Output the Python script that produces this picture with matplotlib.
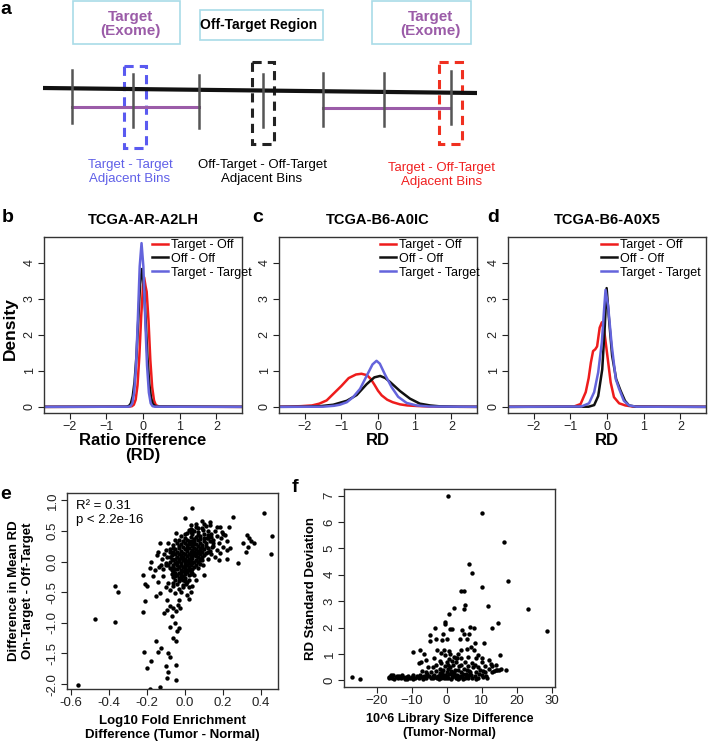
import matplotlib
matplotlib.use('Agg')
import matplotlib.pyplot as plt
from matplotlib.patches import Rectangle

plt.rcParams['font.family'] = ['Liberation Sans', 'DejaVu Sans']

W, H = 708, 741

RED = '#ee1c1c'
BLACK = '#111111'
BLUE = '#6464dc'
PURPLE = '#9b5ca8'

# ---- density curves ----
b_red_x = [-3, -0.4, -0.3, -0.25, -0.2, -0.15, -0.1, -0.05, 0.0, 0.03, 0.07, 0.1, 0.15, 0.2, 0.25, 0.3, 0.35, 0.45, 3]
b_red_y = [0, 0.005, 0.02, 0.06, 0.2, 0.6, 1.4, 2.5, 3.35, 3.6, 3.35, 3.2, 2.4, 1.3, 0.55, 0.18, 0.05, 0.005, 0]
b_black_x = [-3, -0.45, -0.38, -0.33, -0.28, -0.23, -0.18, -0.13, -0.08, -0.03, 0.02, 0.07, 0.12, 0.17, 0.22, 0.27, 0.35, 3]
b_black_y = [0, 0.005, 0.03, 0.1, 0.3, 0.7, 1.4, 2.4, 3.4, 3.83, 3.45, 2.45, 1.4, 0.65, 0.25, 0.08, 0.01, 0]
b_blue_x = [-3, -0.4, -0.34, -0.29, -0.24, -0.19, -0.14, -0.09, -0.04, 0.01, 0.06, 0.11, 0.16, 0.21, 0.26, 0.32, 3]
b_blue_y = [0, 0.005, 0.02, 0.1, 0.4, 1.15, 2.45, 3.9, 4.55, 3.9, 2.45, 1.15, 0.4, 0.1, 0.02, 0.005, 0]

c_red_x = [-3, -2.4, -2.1, -1.8, -1.6, -1.4, -1.2, -1.0, -0.8, -0.6, -0.45, -0.3, -0.2, -0.1, 0.0, 0.1, 0.25, 0.4, 0.6, 0.8, 1.05, 1.4, 2.0, 3]
c_red_y = [0, 0.01, 0.02, 0.04, 0.09, 0.18, 0.38, 0.58, 0.8, 0.9, 0.92, 0.88, 0.78, 0.62, 0.45, 0.32, 0.2, 0.13, 0.07, 0.04, 0.025, 0.01, 0.003, 0]
c_black_x = [-3, -2.0, -1.58, -1.22, -0.85, -0.58, -0.31, -0.1, 0.06, 0.2, 0.33, 0.6, 0.87, 1.14, 1.42, 1.69, 2.2, 3]
c_black_y = [0, 0.005, 0.02, 0.06, 0.17, 0.33, 0.63, 0.82, 0.86, 0.8, 0.69, 0.44, 0.23, 0.09, 0.04, 0.015, 0.003, 0]
c_blue_x = [-3, -1.5, -1.2, -1.04, -0.85, -0.68, -0.49, -0.31, -0.15, -0.04, 0.05, 0.19, 0.37, 0.55, 0.78, 1.05, 1.4, 3]
c_blue_y = [0, 0.005, 0.03, 0.06, 0.13, 0.27, 0.5, 0.86, 1.18, 1.28, 1.2, 0.9, 0.55, 0.28, 0.11, 0.04, 0.01, 0]

d_red_x = [-3, -0.9, -0.72, -0.58, -0.5, -0.44, -0.38, -0.32, -0.27, -0.2, -0.14, -0.08, 0.01, 0.1, 0.19, 0.33, 0.5, 0.7, 3]
d_red_y = [0, 0.01, 0.08, 0.41, 0.8, 1.23, 1.55, 1.6, 1.68, 2.2, 2.35, 2.15, 1.42, 0.68, 0.27, 0.1, 0.04, 0.01, 0]
d_black_x = [-3, -0.5, -0.35, -0.24, -0.13, -0.06, -0.01, 0.05, 0.14, 0.25, 0.37, 0.49, 0.6, 0.8, 3]
d_black_y = [0, 0.005, 0.05, 0.3, 1.04, 2.25, 3.3, 2.5, 1.42, 0.77, 0.45, 0.17, 0.04, 0.005, 0]
d_blue_x = [-3, -0.7, -0.49, -0.35, -0.24, -0.14, -0.08, -0.04, 0.03, 0.13, 0.24, 0.33, 0.46, 0.6, 0.8, 3]
d_blue_y = [0, 0.01, 0.1, 0.41, 0.96, 1.8, 2.7, 3.25, 2.8, 1.7, 0.77, 0.5, 0.17, 0.04, 0.005, 0]

legend_labels = ['Target - Off', 'Off - Off', 'Target - Target']

# ---- panel e scatter: (log10 fold enrichment diff, diff in mean RD) ----
e_points = [
    (-0.56, -2.01), (-0.475, -0.93), (-0.37, -0.98), (-0.37, -0.40), (-0.35, -0.49),
    (-0.22, -0.22), (-0.21, -0.36), (-0.2, -0.40), (-0.22, -0.83), (-0.21, -0.65),
    (-0.215, -1.48), (-0.2, -1.74), (-0.176, -1.63), (-0.185, -2.08), (-0.153, -1.30),
    (-0.14, -1.47), (-0.123, -1.41), (-0.132, -2.05), (-0.1, -1.71), (-0.088, -1.81),
    (-0.093, -1.90), (-0.047, -1.93), (-0.044, -1.68), (-0.088, -1.49), (-0.08, -1.55),
    (-0.07, -0.88), (-0.08, -1.06), (-0.053, -1.0), (-0.06, -1.25), (-0.047, -1.30),
    (-0.04, -1.14), (-0.03, -1.09), (-0.11, -0.84), (-0.093, -0.79), (-0.08, -0.72),
    (-0.06, -0.76), (-0.035, -0.71), (-0.023, -0.76), (-0.044, -0.81), (-0.03, -0.62),
    (-0.093, -0.62), (-0.132, -0.52), (-0.15, -0.56), (-0.1, -0.42), (-0.08, -0.46),
    (-0.053, -0.52), (-0.018, -0.49), (0.009, -0.54), (0.023, -0.61), (0.032, -0.50),
    (-0.009, -0.41), (0.005, -0.36), (0.035, -0.40), (-0.06, -0.35), (-0.088, -0.35),
    (-0.14, -0.33), (-0.114, -0.24), (-0.167, -0.24), (-0.185, -0.11), (-0.176, 0.0),
    (-0.14, 0.16), (-0.132, 0.30), (-0.146, 0.11), (-0.158, -0.14), (-0.136, -0.08),
    (-0.123, -0.05), (-0.114, -0.12), (-0.1, -0.03), (-0.093, 0.08), (-0.1, 0.19),
    (-0.08, 0.16), (-0.053, 0.35), (-0.047, 0.46), (-0.06, 0.27), (0.0, 0.71),
    (0.04, 0.87), (0.03, 0.54), (0.07, 0.43), (0.097, 0.52), (0.132, 0.65),
    (0.167, 0.57), (0.185, 0.57), (0.193, 0.49), (0.21, 0.43), (0.23, 0.57),
    (0.255, 0.73), (0.22, 0.33), (0.2, 0.24), (0.22, 0.19), (0.24, 0.22),
    (0.167, 0.19), (0.185, 0.14), (0.18, 0.03), (0.158, 0.08), (0.141, 0.24),
    (0.123, 0.15), (0.15, 0.35), (0.114, 0.38), (0.22, 0.05), (0.278, -0.02),
    (0.304, 0.31), (0.325, 0.43), (0.34, 0.38), (0.35, 0.33), (0.364, 0.30),
    (0.334, 0.24), (0.322, 0.16), (0.417, 0.79), (0.457, 0.41), (0.452, 0.12),
    (0.1, -0.22), (0.079, 0.03), (0.097, -0.05),
    (0.02, 0.52), (0.05, 0.5), (0.07, 0.48), (0.09, 0.55), (0.04, 0.45),
    (0.11, 0.58), (0.13, 0.6), (0.12, 0.5), (0.01, 0.47), (0.06, 0.56),
    (-0.02, 0.42), (0.0, 0.38), (0.03, 0.4), (0.05, 0.37), (0.08, 0.42),
    (0.1, 0.39), (0.12, 0.44), (0.07, 0.35), (-0.01, 0.33), (0.02, 0.34),
    (0.14, 0.45), (0.16, 0.5), (-0.04, 0.3), (-0.02, 0.28), (0.0, 0.31),
    (0.01, 0.27), (0.03, 0.3), (0.04, 0.26), (0.06, 0.29), (0.08, 0.31),
    (0.09, 0.27), (0.11, 0.3), (0.05, 0.33), (-0.03, 0.25), (0.13, 0.33),
    (-0.05, 0.2), (-0.03, 0.22), (-0.02, 0.18), (0.0, 0.21), (0.01, 0.17),
    (0.02, 0.23), (0.04, 0.19), (0.05, 0.22), (0.07, 0.18), (0.08, 0.23),
    (0.1, 0.2), (-0.06, 0.16), (0.03, 0.15), (0.06, 0.14), (0.09, 0.16),
    (0.12, 0.22), (-0.07, 0.1), (-0.05, 0.12), (-0.04, 0.08), (-0.02, 0.11),
    (-0.01, 0.07), (0.0, 0.13), (0.01, 0.09), (0.03, 0.11), (0.04, 0.06),
    (0.05, 0.1), (0.07, 0.08), (0.08, 0.12), (0.1, 0.1), (-0.03, 0.05),
    (0.02, 0.04), (0.06, 0.03), (-0.08, 0.0), (-0.06, 0.02), (-0.05, -0.02),
    (-0.03, 0.01), (-0.02, -0.03), (-0.01, 0.02), (0.0, -0.01), (0.01, 0.01),
    (0.02, -0.02), (0.03, 0.02), (0.04, -0.03), (0.05, 0.0), (0.07, -0.01),
    (0.09, 0.02), (-0.04, -0.05), (0.0, -0.06), (-0.08, -0.1), (-0.06, -0.08),
    (-0.05, -0.12), (-0.03, -0.09), (-0.02, -0.13), (-0.01, -0.08), (0.0, -0.11),
    (0.01, -0.14), (0.02, -0.09), (0.04, -0.12), (0.05, -0.08), (0.07, -0.1),
    (-0.07, -0.14), (0.03, -0.16), (-0.07, -0.2), (-0.05, -0.18), (-0.04, -0.22),
    (-0.02, -0.19), (-0.01, -0.23), (0.0, -0.2), (0.01, -0.17), (0.02, -0.22),
    (0.04, -0.19), (-0.06, -0.25), (-0.03, -0.26), (0.0, -0.27), (-0.05, -0.3),
    (-0.03, -0.32), (-0.02, -0.29), (0.0, -0.31), (0.01, -0.34), (-0.04, -0.36),
    (0.02, -0.3), (-0.01, -0.38), (-0.12, 0.05), (-0.1, -0.05), (-0.11, 0.12),
    (0.12, 0.05), (0.14, 0.12), (0.15, 0.25), (0.18, 0.3), (0.17, 0.42),
    (0.2, 0.45), (0.19, 0.38), (-0.09, 0.3), (-0.08, 0.2), (0.0, 0.45),
    (0.06, 0.62), (0.1, 0.62), (0.09, 0.67), (0.03, 0.6), (-0.06, -0.4),
    (-0.03, -0.45), (0.02, -0.42), (0.06, -0.3), (0.05, -0.22),
    (-0.05, 0.05), (-0.04, 0.15), (-0.03, 0.12), (-0.01, 0.14), (0.01, 0.22),
    (0.02, 0.12), (0.03, 0.07), (0.04, 0.14), (0.06, 0.09), (0.06, 0.2),
    (0.07, 0.26), (0.08, 0.05), (0.09, 0.08), (0.02, 0.28), (0.04, 0.34),
    (0.06, 0.4), (0.08, 0.37), (0.1, 0.45), (0.03, 0.48), (-0.01, 0.24),
    (-0.02, 0.06), (-0.04, 0.0), (-0.06, -0.05), (-0.02, -0.06), (0.01, -0.05),
    (0.03, -0.06), (0.02, 0.0), (0.0, 0.04), (-0.01, -0.15), (-0.03, -0.18),
    (0.0, -0.16), (0.02, -0.13), (-0.04, -0.12), (-0.06, -0.15), (0.03, -0.2),
    (-0.02, -0.24), (-0.05, -0.24), (-0.01, -0.3), (0.05, 0.16), (0.07, 0.14),
    (0.09, 0.22), (0.11, 0.25), (0.1, 0.33), (0.12, 0.38), (0.14, 0.4),
    (0.01, 0.36), (-0.03, 0.35), (0.05, 0.28), (0.08, 0.18), (-0.07, 0.05),
    (-0.08, 0.08), (-0.06, 0.22), (-0.09, -0.05), (0.06, -0.05), (0.08, -0.04),
    (0.11, 0.14), (0.13, 0.18), (0.15, 0.3), (0.04, 0.52), (0.07, 0.55),
]

# ---- panel f scatter: (library size diff, RD standard deviation) ----
f_points = [
    (0.48, 6.97), (10.2, 6.34), (16.4, 5.26), (6.4, 4.41), (7.3, 4.08),
    (17.5, 3.78), (10.0, 3.55), (4.2, 3.40), (5.0, 3.40), (2.1, 2.76),
    (5.4, 2.85), (5.0, 2.69), (11.8, 2.83), (23.3, 2.69), (0.67, 2.51),
    (28.6, 1.88), (14.7, 2.18), (13.0, 2.0), (-0.57, 2.22), (-0.3, 2.13),
    (1.1, 1.96), (1.6, 1.93), (-0.95, 1.77), (-3.4, 2.0), (-4.6, 1.71),
    (-4.8, 1.50), (-2.9, 1.55), (-1.2, 1.52), (0.19, 1.58), (4.5, 1.90),
    (5.0, 1.77), (6.4, 1.77), (6.7, 2.03), (7.8, 2.0), (3.8, 1.58),
    (5.9, 1.55), (8.0, 1.42), (10.7, 1.42), (6.9, 1.27), (-9.5, 1.08),
    (-7.6, 1.17), (-6.5, 1.01), (-7.4, 0.70), (-6.0, 0.76), (-5.3, 0.51),
    (-3.6, 0.86), (-2.7, 1.14), (-1.5, 1.04), (-0.76, 1.14), (0.67, 1.12),
    (1.1, 0.99), (2.6, 0.86), (3.2, 1.01), (4.2, 1.14), (5.9, 1.20),
    (7.8, 1.17), (9.0, 0.95), (10.2, 0.86), (12.1, 0.79), (12.6, 0.63),
    (15.2, 0.95), (14.5, 0.41), (13.5, 0.35), (-27.1, 0.13), (-24.8, 0.05),
    (-7.9, 0.66), (-16.5, 0.08), (-16.0, 0.15), (-15.5, 0.1), (-15.2, 0.2),
    (-15.0, 0.05), (-14.5, 0.12), (-14.0, 0.08), (-13.5, 0.18), (-13.0, 0.1),
    (-12.5, 0.14), (-12.0, 0.07), (-11.5, 0.12), (-11.0, 0.18), (-10.5, 0.09),
    (-10.0, 0.14), (-9.5, 0.2), (-9.0, 0.1), (-8.5, 0.16), (-8.0, 0.08),
    (-7.5, 0.22), (-7.0, 0.13), (-6.5, 0.18), (-6.0, 0.1), (-5.5, 0.25),
    (-5.0, 0.15), (-4.5, 0.3), (-4.0, 0.1), (-3.5, 0.22), (-3.0, 0.35),
    (-2.5, 0.15), (-2.0, 0.28), (-1.5, 0.1), (-1.0, 0.4), (-0.5, 0.2),
    (0.0, 0.3), (0.5, 0.1), (1.0, 0.5), (1.5, 0.25), (2.0, 0.15),
    (2.5, 0.4), (3.0, 0.2), (3.5, 0.55), (4.0, 0.3), (4.5, 0.12),
    (5.0, 0.45), (5.5, 0.25), (6.0, 0.1), (6.5, 0.35), (7.0, 0.2),
    (7.5, 0.5), (8.0, 0.15), (8.5, 0.3), (9.0, 0.1), (9.5, 0.4),
    (10.0, 0.2), (10.5, 0.12), (11.0, 0.3), (11.5, 0.08), (12.0, 0.45),
    (13.0, 0.3), (14.0, 0.38), (15.0, 0.4), (16.9, 0.38), (-4.0, 0.5),
    (-3.0, 0.6), (-2.0, 0.45), (-1.5, 0.65), (-1.0, 0.2), (-0.5, 0.55),
    (0.0, 0.7), (0.3, 0.45), (0.8, 0.8), (1.2, 0.35), (1.8, 0.6),
    (2.2, 0.3), (2.8, 0.7), (3.2, 0.4), (3.8, 0.15), (4.2, 0.6),
    (4.8, 0.25), (5.2, 0.7), (5.8, 0.4), (6.2, 0.55), (6.8, 0.3),
    (7.2, 0.65), (-2.8, 0.1), (-1.8, 0.2), (-0.8, 0.08), (0.2, 0.15),
    (1.4, 0.05), (2.6, 0.1), (3.6, 0.08), (4.6, 0.05), (5.6, 0.12),
    (-6.0, 0.3), (-7.0, 0.35), (8.0, 0.6), (9.0, 0.5), (10.0, 0.7),
    (11.0, 0.55), (13.0, 0.55), (14.0, 0.6), (15.5, 0.45),
    (-4.5, 0.08), (-3.8, 0.18), (-3.2, 0.12), (-2.2, 0.05), (-1.2, 0.3),
    (-0.2, 0.08), (0.7, 0.25), (1.7, 0.12), (2.3, 0.22), (3.3, 0.05),
    (4.3, 0.18), (5.3, 0.08), (6.3, 0.22), (7.3, 0.1), (8.3, 0.05),
    (9.3, 0.25), (10.3, 0.35), (11.3, 0.18), (-8.2, 0.12), (-9.7, 0.05),
    (-11.2, 0.05), (-12.8, 0.2), (-14.2, 0.15), (-15.8, 0.22), (-16.3, 0.12),
    (-6.8, 0.05), (-5.8, 0.18), (0.5, 0.6), (2.0, 0.9), (3.0, 0.85),
    (-2.0, 0.75), (1.5, 0.75), (4.0, 0.85), (8.5, 0.85), (-0.3, 0.95),
    (6.0, 0.9),
]


def fig_box(l, t, r, b):
    return [l / W, 1 - b / H, (r - l) / W, (b - t) / H]


def style_axes(ax):
    for s in ax.spines.values():
        s.set_color('#333333')
        s.set_linewidth(1.0)
    ax.tick_params(direction='out', length=4, width=0.8, labelsize=9, pad=2,
                   colors='#222222')


fig = plt.figure(figsize=(W / 100, H / 100), dpi=100)

# ---------------- panel a: schematic ----------------
ax_a = fig.add_axes([0, 1 - 200 / H, 1, 200 / H])
ax_a.set_xlim(0, W)
ax_a.set_ylim(200, 0)
ax_a.axis('off')

box_col = '#a9dbe8'
ax_a.add_patch(Rectangle((73, 1), 107, 43, fill=False, ec=box_col, lw=1.2))
ax_a.add_patch(Rectangle((200, 10), 123, 30, fill=False, ec=box_col, lw=1.2))
ax_a.add_patch(Rectangle((372, 1), 99, 43, fill=False, ec=box_col, lw=1.2))
ax_a.text(130, 24, 'Target\n(Exome)', color=PURPLE, fontsize=11, fontweight='bold',
          ha='center', va='center', linespacing=0.95)
ax_a.text(430, 24, 'Target\n(Exome)', color=PURPLE, fontsize=11, fontweight='bold',
          ha='center', va='center', linespacing=0.95)
ax_a.text(259, 25, 'Off-Target Region', color='black', fontsize=10, fontweight='bold',
          ha='center', va='center')

ax_a.plot([43, 477], [88, 93], color='#111111', lw=3, solid_capstyle='butt')
ax_a.plot([72, 199], [107, 107], color=PURPLE, lw=2.2)
ax_a.plot([323, 450], [108, 108], color=PURPLE, lw=2.2)
for tx, t0, t1 in [(72, 70, 123), (133, 74, 127), (199, 75, 128), (263, 74, 127),
                   (323, 73, 126), (384, 73, 126), (451, 71, 124)]:
    ax_a.plot([tx, tx], [t0, t1], color='#555555', lw=1.8)

for (x0, y0, x1, y1, col) in [(124, 66, 146, 148, '#5a5af0'),
                              (252, 62, 274, 144, '#222222'),
                              (439, 62, 462, 144, '#f03020')]:
    ax_a.add_patch(Rectangle((x0, y0), x1 - x0, y1 - y0, fill=False, ec=col,
                             lw=2.2, ls=(0, (3, 2))))

ax_a.text(130, 172, 'Target - Target\nAdjacent Bins', color='#6060e8', fontsize=9.5,
          ha='center', va='center', linespacing=1.15)
ax_a.text(262, 172, 'Off-Target - Off-Target\nAdjacent Bins', color='black', fontsize=9.5,
          ha='center', va='center', linespacing=1.15)
ax_a.text(442, 175, 'Target - Off-Target\nAdjacent Bins', color='#f02020', fontsize=9.5,
          ha='center', va='center', linespacing=1.15)
fig.text(0 / W, 1 - 1 / H, 'a', fontsize=14, fontweight='bold', va='top', ha='left')

# ---------------- panels b, c, d: densities ----------------
panels = [
    ('b', 2, 44, 'TCGA-AR-A2LH', 'Ratio Difference\n(RD)', 0.535,
     [(b_red_x, b_red_y), (b_black_x, b_black_y), (b_blue_x, b_blue_y)]),
    ('c', 252, 279, 'TCGA-B6-A0IC', 'RD', 0.5,
     [(c_red_x, c_red_y), (c_black_x, c_black_y), (c_blue_x, c_blue_y)]),
    ('d', 487, 508, 'TCGA-B6-A0X5', 'RD', 0.46,
     [(d_red_x, d_red_y), (d_black_x, d_black_y), (d_blue_x, d_blue_y)]),
]
for letter, lx, left, title, xlab, leg_x, curves in panels:
    ax = fig.add_axes(fig_box(left, 237, left + 198, 413))
    for (cx, cy), col, lab in zip(curves, [RED, BLACK, BLUE], legend_labels):
        ax.plot(cx, cy, color=col, lw=1.8, label=lab)
    ax.set_xlim(-2.7, 2.7)
    ax.set_ylim(-0.17, 4.72)
    ax.set_xticks([-2, -1, 0, 1, 2])
    ax.set_yticks([0, 1, 2, 3, 4])
    ax.set_yticklabels(['0', '1', '2', '3', '4'], rotation=90, va='center')
    style_axes(ax)
    ax.set_title(title, fontsize=10.5, fontweight='bold', pad=9)
    ax.set_xlabel(xlab, fontsize=12, fontweight='bold', labelpad=0, linespacing=1.0)
    ax.legend(loc='upper left', bbox_to_anchor=(leg_x, 1.0), frameon=False,
              fontsize=9, handlelength=1.3, handletextpad=0.2, labelspacing=0.15,
              borderpad=0.15, borderaxespad=0.0)
    if letter == 'b':
        ax.set_ylabel('Density', fontsize=12.5, fontweight='bold')
        ax.yaxis.set_label_coords(-0.13, 0.48)
    fig.text(lx / W, 1 - 209 / H, letter, fontsize=14, fontweight='bold',
             va='top', ha='left')

# ---------------- panel e ----------------
ax_e = fig.add_axes(fig_box(67, 493, 278, 689))
ax_e.scatter([p[0] for p in e_points], [p[1] for p in e_points], s=10, color='black',
             linewidths=0)
ax_e.set_xlim(-0.62, 0.49)
ax_e.set_ylim(-2.08, 1.12)
ax_e.set_xticks([-0.6, -0.4, -0.2, 0.0, 0.2, 0.4])
ax_e.set_xticklabels(['-0.6', '-0.4', '-0.2', '0.0', '0.2', '0.4'])
ax_e.set_yticks([-2.0, -1.5, -1.0, -0.5, 0.0, 0.5, 1.0])
ax_e.set_yticklabels(['-2.0', '-1.5', '-1.0', '-0.5', '0.0', '0.5', '1.0'],
                     rotation=90, va='center')
style_axes(ax_e)
ax_e.tick_params(labelsize=9.5)
ax_e.set_xlabel('Log10 Fold Enrichment\nDifference (Tumor - Normal)', fontsize=9.5,
                fontweight='bold', labelpad=4, linespacing=1.2)
ax_e.set_ylabel('Difference in Mean RD\nOn-Target - Off-Target', fontsize=9.5,
                fontweight='bold', linespacing=1.2)
ax_e.yaxis.set_label_coords(-0.155, 0.5)
ax_e.text(0.045, 0.965, 'R\u00b2 = 0.31\np < 2.2e-16', transform=ax_e.transAxes,
          fontsize=9.5, va='top', ha='left', linespacing=1.25)
fig.text(0 / W, 1 - 486 / H, 'e', fontsize=14, fontweight='bold', va='top', ha='left')

# ---------------- panel f ----------------
ax_f = fig.add_axes(fig_box(344, 489, 555, 687))
ax_f.scatter([p[0] for p in f_points], [p[1] for p in f_points], s=10, color='black',
             linewidths=0)
ax_f.set_xlim(-29.3, 31.0)
ax_f.set_ylim(-0.25, 7.25)
ax_f.set_xticks([-20, -10, 0, 10, 20, 30])
ax_f.set_yticks([0, 1, 2, 3, 4, 5, 6, 7])
ax_f.set_yticklabels([str(v) for v in range(8)], rotation=90, va='center')
style_axes(ax_f)
ax_f.tick_params(labelsize=9.5)
ax_f.set_xlabel('10^6 Library Size Difference\n(Tumor-Normal)', fontsize=9,
                fontweight='bold', labelpad=4, linespacing=1.2)
ax_f.set_ylabel('RD Standard Deviation', fontsize=9.5, fontweight='bold')
ax_f.yaxis.set_label_coords(-0.13, 0.5)
fig.text(292 / W, 1 - 479 / H, 'f', fontsize=14, fontweight='bold', va='top', ha='left')

fig.savefig('out.png', dpi=100)
